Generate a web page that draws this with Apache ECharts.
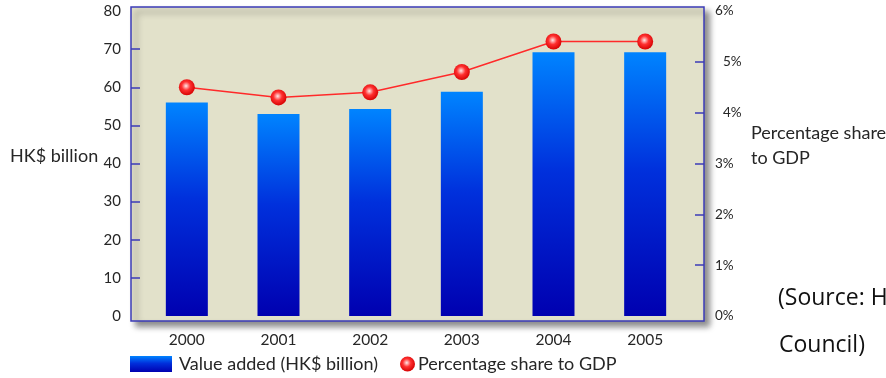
<!DOCTYPE html>
<html>
<head>
<meta charset="utf-8">
<script src="https://cdn.jsdelivr.net/npm/echarts@6/dist/echarts.min.js"></script>
<style>
  html, body { margin: 0; padding: 0; background: #ffffff; }
  #chart { width: 886px; height: 378px; }
</style>
</head>
<body>
<div id="chart"></div>
<script>
// Years shown along the bottom
const years = ['2000', '2001', '2002', '2003', '2004', '2005'];
// Value added, HK$ billion (bars, left axis)
const valueAdded = [56, 53, 54.3, 58.8, 69.2, 69.2];
// Percentage share to GDP (line, right axis)
const gdpShare = [4.5, 4.3, 4.4, 4.8, 5.4, 5.4];
// Tick values that carry a tick mark on each axis
const leftTickValues = [10, 20, 30, 40, 50, 60, 70];
const rightTickValues = [1, 2, 3, 4, 5];

const barName = 'Value added (HK$ billion)';
const lineName = 'Percentage share to GDP';
const font = 'Lato, "Open Sans", sans-serif';
const axisBlue = '#3b3bb8';
const textColor = '#262626';

const chart = echarts.init(document.getElementById('chart'), null, { renderer: 'canvas' });

chart.setOption({
  animation: false,
  textStyle: { fontFamily: font },
  grid: [
    {
      // framed beige plot box with drop shadow
      show: true,
      left: 131, top: 7, width: 573, height: 314,
      backgroundColor: '#e2e1ca',
      borderColor: axisBlue,
      borderWidth: 1.5,
      shadowColor: 'rgba(0,0,0,0.45)',
      shadowBlur: 6,
      shadowOffsetX: 5,
      shadowOffsetY: 5
    },
    {
      // data area
      left: 141, right: 195, top: 11, bottom: 62
    }
  ],
  xAxis: [
    { gridIndex: 0, type: 'value', show: false, min: 0, max: 1 },
    {
      gridIndex: 1,
      type: 'category',
      data: years,
      axisLine: { show: false },
      axisTick: { show: false },
      axisLabel: { margin: 16, fontSize: 15.5, color: textColor, fontFamily: font }
    }
  ],
  yAxis: [
    { gridIndex: 0, type: 'value', show: false, min: 0, max: 1 },
    {
      gridIndex: 1,
      type: 'value',
      position: 'left',
      offset: 10,
      min: 0, max: 80, interval: 10,
      splitLine: { show: false },
      axisLine: { show: false },
      axisTick: {
        show: true, inside: true, length: 9,
        customValues: leftTickValues,
        lineStyle: { color: axisBlue, width: 1.5 }
      },
      axisLabel: { margin: 10, fontSize: 15, color: textColor, fontFamily: font }
    },
    {
      gridIndex: 1,
      type: 'value',
      position: 'right',
      offset: 13,
      min: 0, max: 6, interval: 1,
      splitLine: { show: false },
      axisLine: { show: false },
      axisTick: {
        show: true, inside: true, length: 9,
        customValues: rightTickValues,
        lineStyle: { color: axisBlue, width: 1.5 }
      },
      axisLabel: {
        margin: 11, fontSize: 13.5, color: textColor, fontFamily: font,
        formatter: function (v) {
          return (v === 4 || v === 5) ? '{s|' + v + '%}' : v + '%';
        },
        rich: { s: { padding: [0, 0, 0, 8], fontSize: 13.5, color: textColor, fontFamily: font } }
      }
    }
  ],
  legend: [
    {
      data: [barName],
      left: 130, top: 355, padding: 0,
      itemWidth: 42, itemHeight: 16, itemGap: 0,
      icon: 'rect',
      textStyle: { fontSize: 18, color: textColor, fontFamily: font, padding: [0, 0, 0, 2] }
    },
    {
      data: [lineName],
      left: 400, top: 355, padding: 0,
      itemWidth: 15, itemHeight: 15,
      icon: 'circle',
      textStyle: { fontSize: 18, color: textColor, fontFamily: font, padding: [0, 0, 0, -2] }
    }
  ],
  graphic: [
    {
      type: 'text', left: 10, top: 147,
      style: { text: 'HK$ billion', font: '18px ' + font, fill: textColor }
    },
    {
      type: 'text', left: 751, top: 121,
      style: { text: 'Percentage share\nto GDP', font: '18px ' + font, fill: textColor, lineHeight: 25 }
    },
    {
      type: 'text', left: 778, top: 287,
      style: { text: '(Source: Hong Kong Trade Development', font: '23px "Open Sans", sans-serif', fill: '#111111' }
    },
    {
      type: 'text', left: 779, top: 334,
      style: { text: 'Council)', font: '23px "Open Sans", sans-serif', fill: '#111111' }
    }
  ],
  series: [
    {
      name: barName,
      type: 'bar',
      xAxisIndex: 1,
      yAxisIndex: 1,
      barWidth: 42,
      data: valueAdded,
      itemStyle: {
        color: new echarts.graphic.LinearGradient(0, 0, 0, 1, [
          { offset: 0, color: '#0084ff' },
          { offset: 0.45, color: '#0030dc' },
          { offset: 1, color: '#0000b0' }
        ])
      }
    },
    {
      name: lineName,
      type: 'line',
      xAxisIndex: 1,
      yAxisIndex: 2,
      data: gdpShare,
      symbol: 'circle',
      symbolSize: 16,
      lineStyle: { color: '#ff2a2a', width: 1.5 },
      itemStyle: {
        color: new echarts.graphic.RadialGradient(0.45, 0.42, 0.6, [
          { offset: 0, color: '#ffe8e8' },
          { offset: 0.45, color: '#ff3030' },
          { offset: 1, color: '#d40000' }
        ])
      },
      z: 5
    }
  ]
});
</script>
</body>
</html>
